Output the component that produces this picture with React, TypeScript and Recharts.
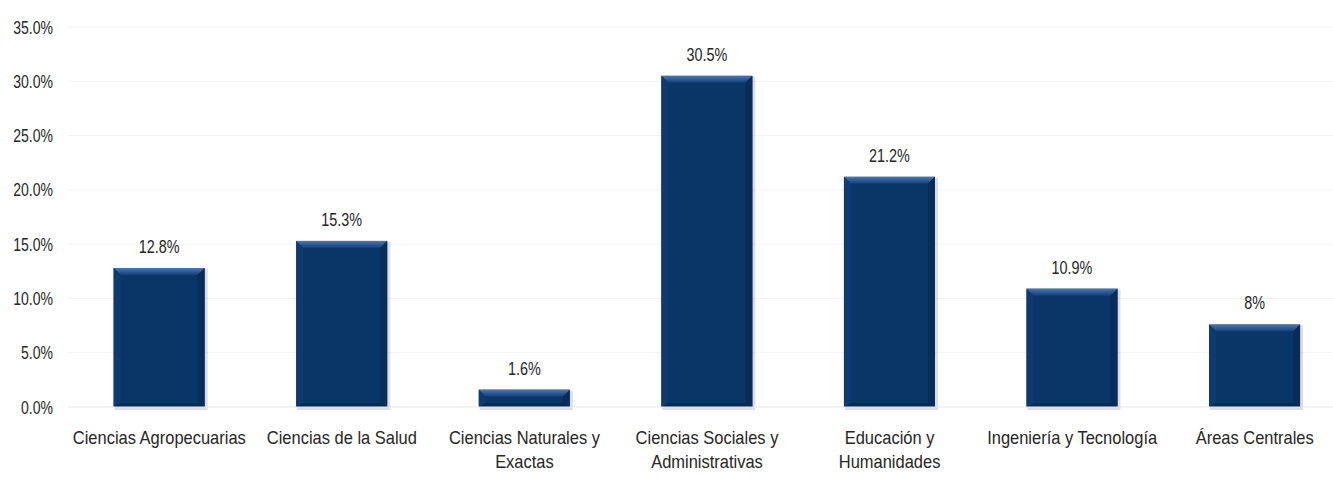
import { BarChart, Bar, XAxis, YAxis, CartesianGrid, LabelList } from "recharts";

const categories = [
  "Ciencias Agropecuarias",
  "Ciencias de la Salud",
  "Ciencias Naturales y\nExactas",
  "Ciencias Sociales y\nAdministrativas",
  "Educación y\nHumanidades",
  "Ingeniería y Tecnología",
  "Áreas Centrales",
];
const shares = [12.8, 15.3, 1.6, 30.5, 21.2, 10.9, 7.6];
const valueLabels = ["12.8%", "15.3%", "1.6%", "30.5%", "21.2%", "10.9%", "8%"];
const yTicks = [0, 5, 10, 15, 20, 25, 30, 35];

const data = categories.map((name, i) => ({ name, value: shares[i], label: valueLabels[i] }));

const FONT = "'Liberation Sans', Arial, sans-serif";
const INK = "#262626";

function BevelBar(props: any) {
  const { x, y, width, height } = props;
  if (!height || height <= 0) return null;
  const b = Math.min(7, height / 2, width / 2);
  const bb = Math.min(4, height / 2);
  return (
    <g>
      <rect x={x + 1} y={y + 1} width={width + 2} height={height + 2} fill="#000" opacity={0.13} />
      <rect x={x} y={y} width={width} height={height} fill="#0a3567" />
      <polygon
        points={`${x},${y} ${x + width},${y} ${x + width - b},${y + b} ${x + b},${y + b}`}
        fill="url(#bevelTop)"
      />
      <polygon points={`${x},${y} ${x + b},${y + b} ${x + b},${y + height - bb} ${x},${y + height}`} fill="#0d3b71" />
      <polygon
        points={`${x + width},${y} ${x + width - b},${y + b} ${x + width - b},${y + height - bb} ${x + width},${y + height}`}
        fill="#082d58"
      />
      <polygon
        points={`${x},${y + height} ${x + b},${y + height - bb} ${x + width - b},${y + height - bb} ${x + width},${y + height}`}
        fill="#072b55"
      />
    </g>
  );
}

// narrow text, the original uses a condensed face
function NarrowText({ x, y, sx, anchor, children }: any) {
  return (
    <text
      transform={`translate(${x},${y}) scale(${sx},1)`}
      x={0}
      y={0}
      textAnchor={anchor}
      fill={INK}
      fontSize={18}
      fontFamily={FONT}
    >
      {children}
    </text>
  );
}

function CatTick(props: any) {
  const { x, payload } = props;
  const lines = String(payload.value).split("\n");
  return (
    <g>
      {lines.map((l, i) => (
        <NarrowText key={i} x={x} y={444 + i * 24} sx={0.915} anchor="middle">
          {l}
        </NarrowText>
      ))}
    </g>
  );
}

function YTick(props: any) {
  const { x, y, payload } = props;
  return (
    <NarrowText x={x - 7} y={y + 6.5} sx={0.78} anchor="end">
      {`${payload.value.toFixed(1)}%`}
    </NarrowText>
  );
}

function ValueLabel(props: any) {
  const { x, y, width, value } = props;
  return (
    <NarrowText x={x + width / 2} y={y - 15} sx={0.8} anchor="middle">
      {value}
    </NarrowText>
  );
}

export default function App() {
  return (
    <div style={{ position: "fixed", left: 0, top: 0, width: 1333, height: 477, overflow: "hidden", background: "#fff" }}>
      <BarChart
        width={1346}
        height={477}
        data={data}
        margin={{ top: 27, right: 0, bottom: 40, left: 8 }}
        barCategoryGap="25%"
      >
        <defs>
          <linearGradient id="bevelTop" x1="0" y1="0" x2="0" y2="1">
            <stop offset="0%" stopColor="#4a78b2" />
            <stop offset="100%" stopColor="#143f77" />
          </linearGradient>
        </defs>
        <CartesianGrid vertical={false} stroke="#f3f3f3" />
        <XAxis
          dataKey="name"
          axisLine={{ stroke: "#ebebeb" }}
          tickLine={false}
          interval={0}
          tick={<CatTick />}
        />
        <YAxis
          domain={[0, 35]}
          ticks={yTicks}
          width={60}
          axisLine={false}
          tickLine={false}
          tick={<YTick />}
        />
        <Bar dataKey="value" shape={<BevelBar />} isAnimationActive={false}>
          <LabelList dataKey="label" content={<ValueLabel />} />
        </Bar>
      </BarChart>
    </div>
  );
}
